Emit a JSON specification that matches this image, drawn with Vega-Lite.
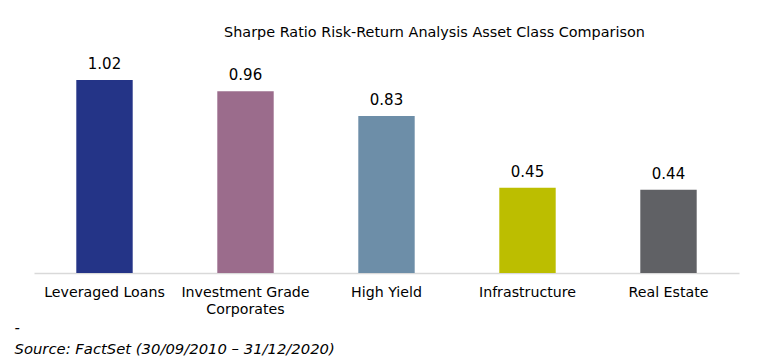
{
  "$schema": "https://vega.github.io/schema/vega-lite/v6.json",
  "autosize": {"type": "none"},
  "width": 705,
  "height": 193,
  "padding": {"left": 34, "top": 80, "right": 41, "bottom": 89},
  "background": "white",
  "config": {
    "view": {"stroke": null},
    "font": "DejaVu Sans"
  },
  "title": {
    "text": "Sharpe Ratio Risk-Return Analysis Asset Class Comparison",
    "anchor": "middle",
    "dx": 48,
    "offset": 17,
    "fontSize": 14.4,
    "fontWeight": "normal",
    "font": "DejaVu Sans",
    "color": "#000000"
  },
  "data": {
    "values": [
      {"asset": "Leveraged Loans", "sharpe": 1.02, "color": "#243487"},
      {"asset": "Investment Grade Corporates", "sharpe": 0.96, "color": "#9B6C8C"},
      {"asset": "High Yield", "sharpe": 0.83, "color": "#6D8EA8"},
      {"asset": "Infrastructure", "sharpe": 0.45, "color": "#BCBE00"},
      {"asset": "Real Estate", "sharpe": 0.44, "color": "#606165"}
    ]
  },
  "encoding": {
    "x": {
      "field": "asset",
      "type": "nominal",
      "sort": null,
      "scale": {"paddingInner": 0.6, "paddingOuter": 0.3},
      "axis": {
        "title": ["-", "Source: FactSet (30/09/2010 – 31/12/2020)"],
        "titleFontStyle": "italic",
        "titleFontWeight": "normal",
        "titleFont": "DejaVu Sans",
        "titleFontSize": 14.8,
        "titleColor": "#000000",
        "titleAnchor": "start",
        "titleAlign": "left",
        "titleBaseline": "alphabetic",
        "titleX": -20,
        "titleY": 59,
        "titleLineHeight": 21,
        "labelAngle": 0,
        "labelFontSize": 14.2,
        "labelColor": "#000000",
        "labelPadding": 12,
        "labelLineHeight": 17,
        "labelExpr": "datum.value == 'Investment Grade Corporates' ? ['Investment Grade', 'Corporates'] : datum.value",
        "ticks": false,
        "domainColor": "#D9D9D9",
        "domainWidth": 1.5,
        "grid": false
      }
    },
    "y": {
      "field": "sharpe",
      "type": "quantitative",
      "scale": {"domain": [0, 1.02], "nice": false},
      "axis": null
    }
  },
  "layer": [
    {
      "mark": {"type": "bar"},
      "encoding": {
        "color": {"field": "color", "type": "nominal", "scale": null}
      }
    },
    {
      "mark": {"type": "text", "dy": -8, "fontSize": 15, "color": "#000000", "baseline": "bottom", "font": "DejaVu Sans"},
      "encoding": {
        "text": {"field": "sharpe", "type": "quantitative", "format": ".2f"}
      }
    }
  ]
}
